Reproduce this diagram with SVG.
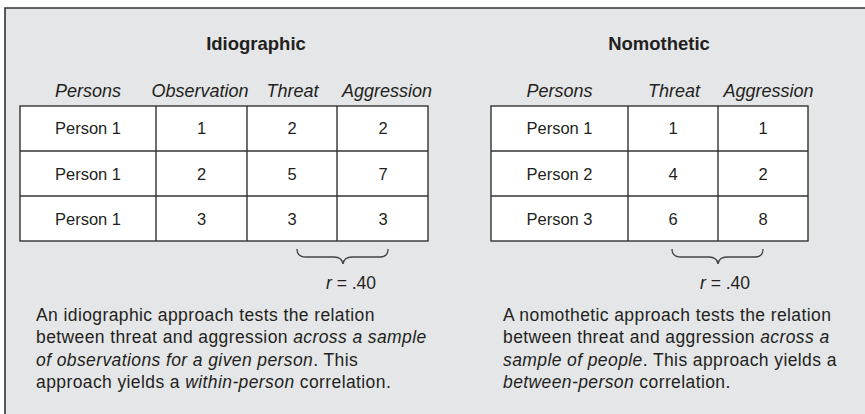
<svg xmlns="http://www.w3.org/2000/svg" width="865" height="414" viewBox="0 0 865 414">
<style>
text{font-family:"Liberation Sans",Arial,sans-serif;fill:#231f20}
.title{font-size:18.5px;font-weight:bold;text-anchor:middle}
.hdr{font-size:18px;font-style:italic;text-anchor:middle}
.cell{font-size:16.5px;text-anchor:middle}
.para{font-size:17.5px;letter-spacing:0.4px}
.r{font-size:17.5px;text-anchor:middle}
.tbl{fill:#fff;stroke:#333;stroke-width:1.4}
.grid{stroke:#333;stroke-width:1.4;fill:none}
.brace{stroke:#444;stroke-width:1.3;fill:none}
</style>
<rect x="0" y="0" width="865" height="414" fill="#fff"/>
<rect x="5" y="8" width="860" height="406" fill="#e5e6e8"/>
<path d="M5,414 V8 H865" stroke="#333" stroke-width="1.6" fill="none"/>

<g id="idiographic">
<text class="title" x="256" y="50">Idiographic</text>
<text class="hdr" x="88" y="97">Persons</text>
<text class="hdr" x="200" y="97">Observation</text>
<text class="hdr" x="292.5" y="97">Threat</text>
<text class="hdr" x="387" y="97">Aggression</text>
<rect class="tbl" x="20" y="106" width="408" height="135"/>
<path class="grid" d="M156,106V241M247,106V241M337,106V241M20,151H428M20,196H428"/>
<text class="cell" x="88" y="134">Person 1</text>
<text class="cell" x="201.5" y="134">1</text>
<text class="cell" x="292" y="134">2</text>
<text class="cell" x="383" y="134">2</text>
<text class="cell" x="88" y="180">Person 1</text>
<text class="cell" x="201.5" y="180">2</text>
<text class="cell" x="292" y="180">5</text>
<text class="cell" x="383" y="180">7</text>
<text class="cell" x="88" y="225">Person 1</text>
<text class="cell" x="201.5" y="225">3</text>
<text class="cell" x="292" y="225">3</text>
<text class="cell" x="383" y="225">3</text>
<path class="brace" d="M297,249 Q297,257 306,257 H334 Q342,257 343,264 Q344,257 352,257 H380 Q388,257 388,249"/>
<text class="r" x="351" y="289"><tspan font-style="italic">r</tspan> = .40</text>
<text class="para" x="36" y="321">An idiographic approach tests the relation</text>
<text class="para" x="36" y="343">between threat and aggression <tspan font-style="italic">across a sample</tspan></text>
<text class="para" x="36" y="366"><tspan font-style="italic">of observations for a given person</tspan>. This</text>
<text class="para" x="36" y="388">approach yields a <tspan font-style="italic">within-person</tspan> correlation.</text>
</g>

<g id="nomothetic">
<text class="title" x="659" y="50">Nomothetic</text>
<text class="hdr" x="559.5" y="97">Persons</text>
<text class="hdr" x="674" y="97">Threat</text>
<text class="hdr" x="768.5" y="97">Aggression</text>
<rect class="tbl" x="491" y="106" width="317" height="135"/>
<path class="grid" d="M628,106V241M718,106V241M491,151H808M491,196H808"/>
<text class="cell" x="559.5" y="134">Person 1</text>
<text class="cell" x="673" y="134">1</text>
<text class="cell" x="763" y="134">1</text>
<text class="cell" x="559.5" y="180">Person 2</text>
<text class="cell" x="673" y="180">4</text>
<text class="cell" x="763" y="180">2</text>
<text class="cell" x="559.5" y="225">Person 3</text>
<text class="cell" x="673" y="225">6</text>
<text class="cell" x="763" y="225">8</text>
<path class="brace" d="M672,249 Q672,257 681,257 H709 Q717,257 718,264 Q719,257 727,257 H755 Q763,257 763,249"/>
<text class="r" x="725" y="289"><tspan font-style="italic">r</tspan> = .40</text>
<text class="para" x="503" y="321">A nomothetic approach tests the relation</text>
<text class="para" x="503" y="343">between threat and aggression <tspan font-style="italic">across a</tspan></text>
<text class="para" x="503" y="366"><tspan font-style="italic">sample of people</tspan>. This approach yields a</text>
<text class="para" x="503" y="388"><tspan font-style="italic">between-person</tspan> correlation.</text>
</g>
</svg>
